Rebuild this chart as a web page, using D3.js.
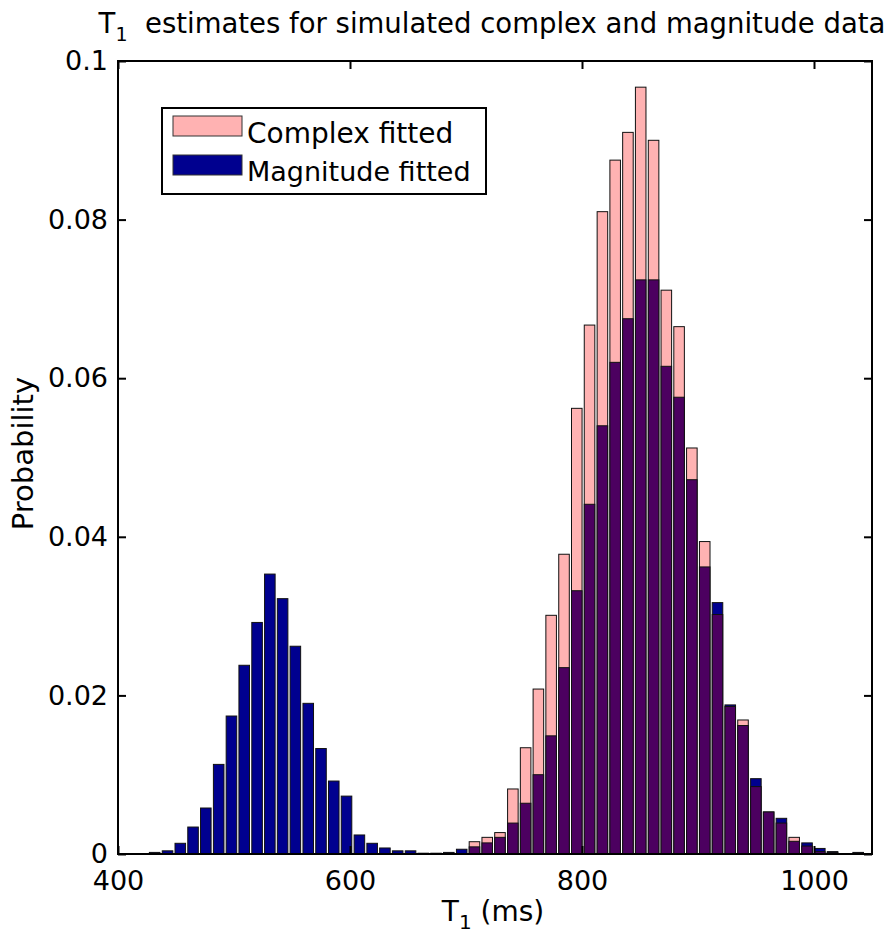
<!DOCTYPE html>
<html lang="en">
<head>
    <meta charset="UTF-8">
    <title>T1 estimates histogram</title>
    <script src="https://d3js.org/d3.v7.min.js"></script>
    <style>
        body { margin: 0; background: #fff; }
        svg { font-family: "DejaVu Sans", Verdana, sans-serif; }
    </style>
</head>
<body>
    <script>
        // Data: histogram bin centres (ms) and probabilities
        const binCenters = [
            431.6, 442.7, 453.7, 464.7, 475.7, 486.8, 497.8, 508.8, 519.9, 530.9,
            541.9, 552.9, 564.0, 575.0, 586.0, 597.0, 608.1, 619.1, 630.1, 641.1,
            652.2, 663.2, 674.2, 685.2, 696.3, 707.3, 718.3, 729.3, 740.4, 751.4,
            762.4, 773.4, 784.5, 795.5, 806.5, 817.6, 828.6, 839.6, 850.6, 861.7,
            872.7, 883.7, 894.7, 905.8, 916.8, 927.8, 938.8, 949.9, 960.9, 971.9,
            982.9, 994.0, 1005.0, 1016.0, 1027.0, 1038.1
        ];
        const magnitudeFitted = [
            0.0002, 0.0004, 0.00135, 0.0034, 0.0058, 0.0113, 0.0174, 0.0238, 0.0292, 0.0353,
            0.0322, 0.0262, 0.0190, 0.0133, 0.0092, 0.0073, 0.0024, 0.00135, 0.00076, 0.0004,
            0.0004, 0.0001, 0.0001, 0.0002, 0.0006, 0.0009, 0.0014, 0.0021, 0.0039, 0.0064,
            0.0100, 0.0149, 0.0235, 0.0332, 0.0441, 0.0540, 0.0620, 0.0675, 0.0724, 0.0724,
            0.0615, 0.0576, 0.0472, 0.0362, 0.0317, 0.0188, 0.0162, 0.0095, 0.0053, 0.0045,
            0.0016, 0.0014, 0.0007, 0.0003, 0, 0.0002
        ];
        const complexFitted = [
            0, 0, 0, 0, 0, 0, 0, 0, 0, 0,
            0, 0, 0, 0, 0, 0, 0, 0, 0, 0,
            0, 0, 0, 0, 0, 0.00155, 0.0021, 0.0027, 0.0082, 0.0134,
            0.0208, 0.0301, 0.0378, 0.0562, 0.0667, 0.0810, 0.0875, 0.0910, 0.0967, 0.0900,
            0.0711, 0.0665, 0.0512, 0.0394, 0.0302, 0.0186, 0.0169, 0.0085, 0.0053, 0.0039,
            0.0021, 0.0010, 0.0003, 0.0002, 0, 0.0001
        ];
        const xTicks = [400, 600, 800, 1000];
        const yTicks = [0, 0.02, 0.04, 0.06, 0.08, 0.1];
        const seriesNames = ["Complex fitted", "Magnitude fitted"];

        const width = 896, height = 936;
        const margin = { left: 118, right: 24, top: 61, bottom: 82 };
        const colors = { complex: "#ffb2b2", magnitude: "#00008f", overlap: "#4c0060" };
        const binWidth = 9.1; // ms, bar width

        const svg = d3.select("body").append("svg")
            .attr("width", width)
            .attr("height", height);

        const x = d3.scaleLinear()
            .domain([400, 1050])
            .range([margin.left, width - margin.right]);
        const y = d3.scaleLinear()
            .domain([0, 0.1])
            .range([height - margin.bottom, margin.top]);

        const bins = binCenters.map((c, i) => ({
            c: c,
            complex: complexFitted[i],
            magnitude: magnitudeFitted[i]
        }));

        // Bars: taller series colour first, overlapped part in purple on top
        const bw = x(binWidth) - x(0);
        svg.append("g").selectAll("rect")
            .data(bins.filter(d => Math.max(d.complex, d.magnitude) > 0))
            .enter().append("rect")
            .attr("x", d => x(d.c) - bw / 2)
            .attr("width", bw)
            .attr("y", d => y(Math.max(d.complex, d.magnitude)))
            .attr("height", d => y(0) - y(Math.max(d.complex, d.magnitude)))
            .attr("fill", d => d.complex > d.magnitude ? colors.complex : colors.magnitude)
            .attr("stroke", "#111")
            .attr("stroke-width", 1);

        svg.append("g").selectAll("rect")
            .data(bins.filter(d => Math.min(d.complex, d.magnitude) > 0))
            .enter().append("rect")
            .attr("x", d => x(d.c) - bw / 2)
            .attr("width", bw)
            .attr("y", d => y(Math.min(d.complex, d.magnitude)))
            .attr("height", d => y(0) - y(Math.min(d.complex, d.magnitude)))
            .attr("fill", colors.overlap)
            .attr("stroke", "#111")
            .attr("stroke-width", 1);

        // Axes with inward ticks on all four sides
        const fmtY = d => String(+d.toFixed(2));
        svg.append("g")
            .attr("transform", `translate(0,${y(0)})`)
            .call(d3.axisBottom(x).tickValues(xTicks).tickFormat(d3.format("d"))
                .tickSizeInner(-8).tickSizeOuter(0).tickPadding(17));
        svg.append("g")
            .attr("transform", `translate(${x(400)},0)`)
            .call(d3.axisLeft(y).tickValues(yTicks).tickFormat(fmtY)
                .tickSizeInner(-8).tickSizeOuter(0).tickPadding(10));
        svg.append("g")
            .attr("transform", `translate(0,${y(0.1)})`)
            .call(d3.axisTop(x).tickValues(xTicks).tickFormat("").tickSizeInner(-8).tickSizeOuter(0));
        svg.append("g")
            .attr("transform", `translate(${x(1050)},0)`)
            .call(d3.axisRight(y).tickValues(yTicks).tickFormat("").tickSizeInner(-8).tickSizeOuter(0));

        svg.selectAll(".domain").remove();
        svg.selectAll(".tick line").attr("stroke", "#000").attr("stroke-width", 2);
        svg.selectAll(".tick text")
            .attr("fill", "#000")
            .style("font-family", "'DejaVu Sans', Verdana, sans-serif")
            .style("font-size", "27px");

        svg.append("rect")
            .attr("x", x(400)).attr("y", y(0.1))
            .attr("width", x(1050) - x(400))
            .attr("height", y(0) - y(0.1))
            .attr("fill", "none")
            .attr("stroke", "#000")
            .attr("stroke-width", 2);

        // Title
        const title = svg.append("text")
            .attr("x", (x(400) + x(1050)) / 2 - 3)
            .attr("y", 33)
            .attr("text-anchor", "middle")
            .style("font-size", "27.5px");
        title.append("tspan").text("T");
        title.append("tspan").attr("dy", 8).style("font-size", "19px").text("1");
        title.append("tspan").attr("dy", -8).text("\u00a0 estimates for simulated complex and magnitude data");

        // Axis labels
        const xl = svg.append("text")
            .attr("x", (x(400) + x(1050)) / 2 - 2)
            .attr("y", 921)
            .attr("text-anchor", "middle")
            .style("font-size", "28px");
        xl.append("tspan").text("T");
        xl.append("tspan").attr("dy", 8).style("font-size", "20px").text("1");
        xl.append("tspan").attr("dy", -8).text("\u00a0(ms)");

        svg.append("text")
            .attr("transform", `translate(33,${(y(0) + y(0.1)) / 2 - 4}) rotate(-90)`)
            .attr("text-anchor", "middle")
            .style("font-size", "29px")
            .text("Probability");

        // Legend
        const legend = svg.append("g");
        legend.append("rect")
            .attr("x", 162).attr("y", 108)
            .attr("width", 324).attr("height", 86)
            .attr("fill", "#fff")
            .attr("stroke", "#000")
            .attr("stroke-width", 2);
        [colors.complex, colors.magnitude].forEach((col, i) => {
            legend.append("rect")
                .attr("x", 173).attr("y", 116 + i * 39)
                .attr("width", 69).attr("height", 20)
                .attr("fill", col)
                .attr("stroke", "#333")
                .attr("stroke-width", 1);
            legend.append("text")
                .attr("x", 247).attr("y", 133 + i * 39)
                .attr("dy", "0.35em")
                .style("font-size", i === 0 ? "28px" : "27px")
                .text(seriesNames[i]);
        });
    </script>
</body>
</html>
